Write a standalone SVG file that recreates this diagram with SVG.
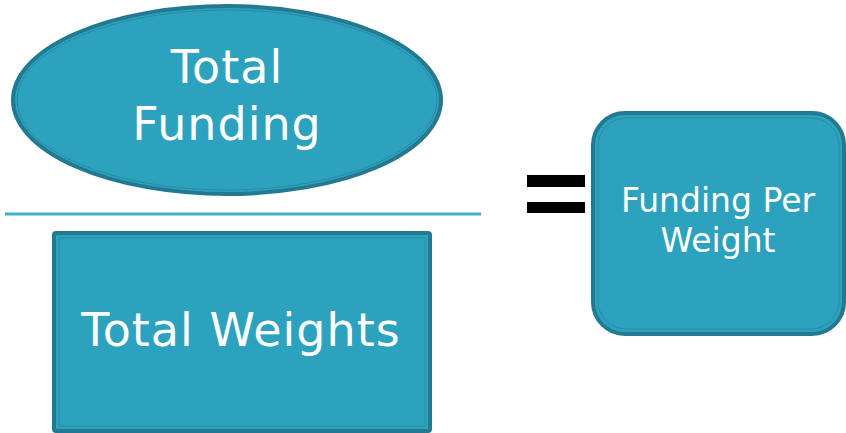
<svg xmlns="http://www.w3.org/2000/svg" width="846" height="433" viewBox="0 0 846 433">
<style>
.shape{fill:#2ca2bf;stroke:#23798f;stroke-width:4}
.inner{fill:none;stroke:#2a8aa2;stroke-width:1}
.lbl{font-family:"DejaVu Sans",sans-serif;fill:#ffffff;text-anchor:middle}
.big{font-size:46px;letter-spacing:1px}
</style>
<rect width="846" height="433" fill="#ffffff"/>
<g id="total-funding">
<ellipse class="shape" cx="227" cy="100" rx="214" ry="94"/>
<ellipse class="inner" cx="227" cy="100" rx="210" ry="90"/>
<text class="lbl big" x="227" y="83">Total</text>
<text class="lbl big" x="227" y="140">Funding</text>
</g>
<g id="connectors">
<line x1="5" y1="214" x2="481" y2="214" stroke="#3fb0cc" stroke-width="3"/>
<rect x="527" y="175" width="58" height="12" fill="#000000"/>
<rect x="527" y="202" width="58" height="11" fill="#000000"/>
</g>
<g id="total-weights">
<rect class="shape" x="54" y="233" width="376" height="198" rx="2"/>
<rect class="inner" x="59" y="238" width="366" height="188"/>
<text class="lbl big" x="241" y="346" letter-spacing="0.5">Total Weights</text>
</g>
<g id="funding-per-weight">
<rect class="shape" x="593" y="113" width="251" height="221" rx="32"/>
<rect class="inner" x="598" y="118" width="241" height="211" rx="28"/>
<text class="lbl" x="718" y="212" font-size="33">Funding Per</text>
<text class="lbl" x="718" y="252" font-size="33">Weight</text>
</g>
</svg>
